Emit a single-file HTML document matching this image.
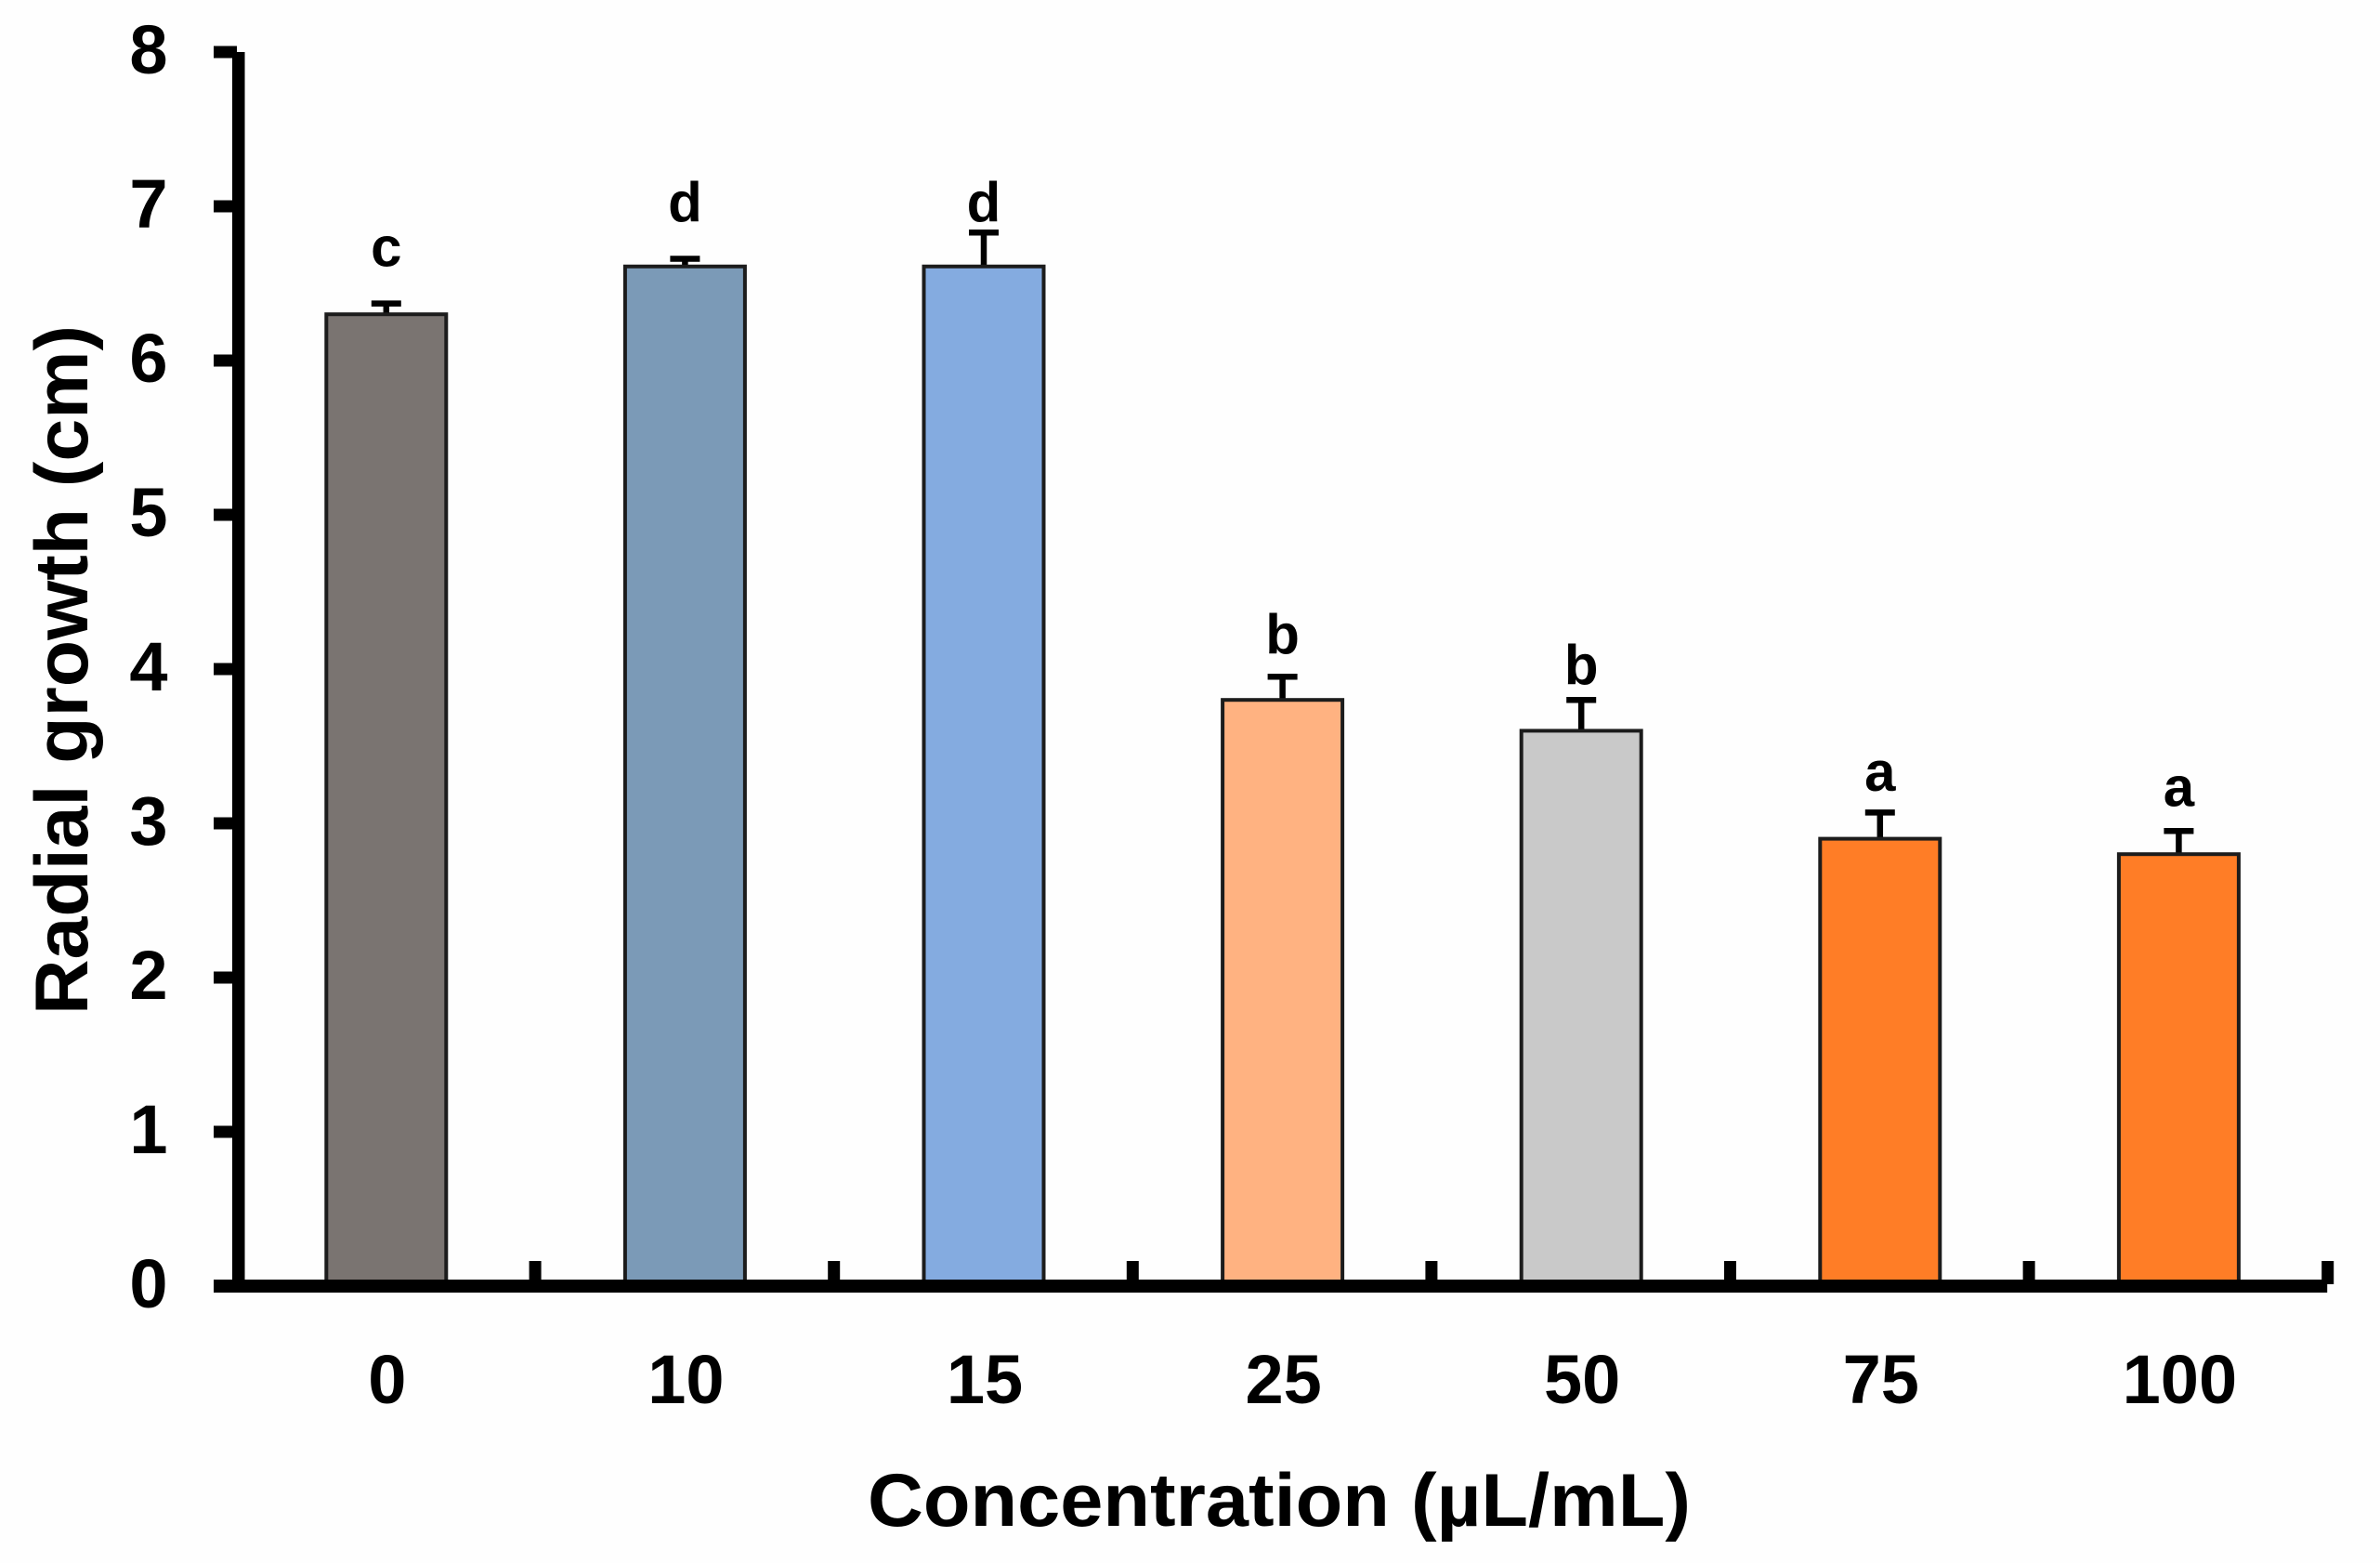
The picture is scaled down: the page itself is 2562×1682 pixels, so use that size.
<!DOCTYPE html>
<html lang="en">
<head>
<meta charset="utf-8">
<title>Radial growth vs concentration</title>
<style>
html,body{margin:0;padding:0;background:#fff;}
svg{display:block;}
text{font-family:"Liberation Sans",sans-serif;font-weight:700;fill:#000;}
</style>
</head>
<body>
<svg id="chart" xmlns="http://www.w3.org/2000/svg" width="2562" height="1682" viewBox="0 0 2562 1682">
  <rect x="0" y="0" width="2562" height="1682" fill="#fefefe"/>
  <g id="bars"></g>
  <g id="axes"></g>
  <text transform="translate(94,721) rotate(-90)" text-anchor="middle" font-size="81" textLength="742" lengthAdjust="spacingAndGlyphs">Radial growth (cm)</text>
  <text x="1377" y="1642" text-anchor="middle" font-size="81" textLength="886" lengthAdjust="spacingAndGlyphs">Concentration (µL/mL)</text>
</svg>
<script>
const categories = ["0", "10", "15", "25", "50", "75", "100"];
const values = [6.3, 6.61, 6.61, 3.8, 3.6, 2.9, 2.8];
const errors = [0.07, 0.05, 0.22, 0.15, 0.2, 0.17, 0.15];
const letters = ["c", "d", "d", "b", "b", "a", "a"];
const letterLevels = [6.61, 6.9, 6.9, 4.1, 3.9, 3.21, 3.11];
const yTicks = [0, 1, 2, 3, 4, 5, 6, 7, 8];
const barColors = ["#7a7471", "#7b9ab7", "#84abe0", "#ffb281", "#c9c9c9", "#ff7d26", "#ff7d26"];

const NS = "http://www.w3.org/2000/svg";
const originX = 254, bandWidth = 321.6, zeroY = 1384, unitY = 166, barWidth = 129, barShift = 1;
function xBand(i) { return originX + bandWidth * i; }
function xCenter(i) { return originX + bandWidth * (i + 0.5) + barShift; }
function yScale(v) { return zeroY - unitY * v; }
function make(tag, attrs, parent) {
  const el = document.createElementNS(NS, tag);
  for (const k in attrs) el.setAttribute(k, attrs[k]);
  parent.appendChild(el);
  return el;
}

const barsG = document.getElementById("bars");
const axesG = document.getElementById("axes");
const svgRoot = document.getElementById("chart");

categories.forEach(function (cat, i) {
  const cx = xCenter(i);
  const top = yScale(values[i]);
  const errTop = yScale(values[i] + errors[i]);

  const stem = make("line", {x1: cx, x2: cx, y1: top, y2: errTop, stroke: "#000", "stroke-width": 6.5}, barsG);
  
  

  const cap = make("line", {x1: cx - 16, x2: cx + 16, y1: errTop, y2: errTop, stroke: "#000", "stroke-width": 6.5}, barsG);
  
  

  const bar = make("rect", {x: cx - barWidth / 2, y: top, width: barWidth, height: zeroY - top, fill: barColors[i], stroke: "#1c1c1c", "stroke-width": 4}, barsG);
  
  

  const letter = make("text", {x: cx, y: yScale(letterLevels[i]), "text-anchor": "middle", "font-size": 60}, svgRoot);
  letter.textContent = letters[i];
  
  

  const label = make("text", {x: cx + 1, y: 1510, "text-anchor": "middle", "font-size": 74}, svgRoot);
  label.textContent = cat;
  
  

  const tick = make("rect", {x: xBand(i + 1) - 6, y: 1357, width: 13, height: 25, fill: "#000"}, axesG);
  
  
});

yTicks.forEach(function (t) {
  const y = yScale(t);
  const tick = make("rect", {x: 230, y: y - 6.5, width: 25, height: 13, fill: "#000"}, axesG);
  
  

  const label = make("text", {x: 160, y: y + 23, "text-anchor": "middle", "font-size": 74}, svgRoot);
  label.textContent = t;
  
  
});

const yAxis = make("rect", {x: 250, y: yScale(yTicks[yTicks.length - 1]), width: 13.5, height: zeroY - yScale(yTicks[yTicks.length - 1]), fill: "#000"}, axesG);



const xAxis = make("rect", {x: 230, y: zeroY - 7, width: xBand(categories.length) - 230, height: 14, fill: "#000"}, axesG);


</script>
</body>
</html>
